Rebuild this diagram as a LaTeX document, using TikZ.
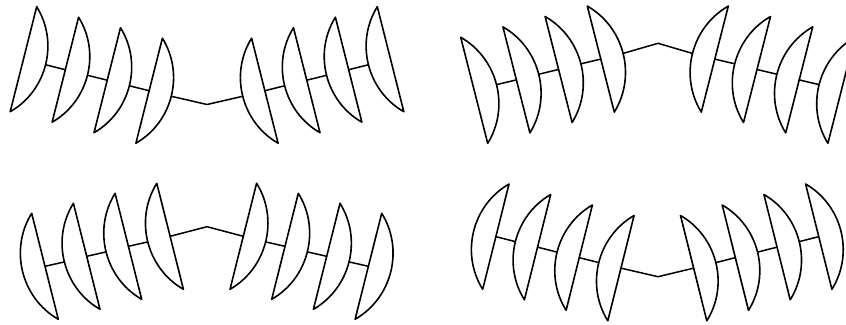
\documentclass[tikz,border=0pt]{standalone}
\tikzset{
  lensline/.style={line width=1.6pt, line join=round, line cap=round},
  conn/.style={line width=1.5pt, line join=round, line cap=round}
}
% #1 name, #2 top x, #3 top y, #4 chord dx, #5 chord dy, #6 bend side
\newcommand\lens[6]{%
  \coordinate (#1t) at (#2,#3);
  \coordinate (#1b) at ({#2+#4},{#3+#5});
  \draw[lensline] (#1b) -- node[coordinate,pos=.5](#1c){} (#1t)
     to[bend #6=46] node[coordinate,pos=.5](#1a){} (#1b);
}
\begin{document}
\begin{tikzpicture}[x=1pt,y=-1pt]
\useasboundingbox (0,0) rectangle (846,324);
\clip (0,0) rectangle (846,324);
\foreach \k in {0,1,2,3}{
  % panel 1 (top left)
  \pgfmathsetmacro\tx{36.7+41.9*\k}\pgfmathsetmacro\ty{6.7+10.5*\k}\pgfmathsetmacro\mx{414-\tx}
  \lens{PaL\k}{\tx}{\ty}{-26.5}{105}{left}
  \lens{PaR\k}{\mx}{\ty}{26.5}{105}{right}
  % panel 2 (top right)
  \pgfmathsetmacro\tx{460.7+42.2*\k}\pgfmathsetmacro\ty{37.3-10.4*\k}\pgfmathsetmacro\mx{1315.6-\tx}
  \lens{PbL\k}{\tx}{\ty}{27}{106}{left}
  \lens{PbR\k}{\mx}{\ty}{-27}{106}{right}
  % panel 3 (bottom left)
  \pgfmathsetmacro\tx{31.7+41.7*\k}\pgfmathsetmacro\ty{213.3-10*\k}\pgfmathsetmacro\mx{413.4-\tx}
  \lens{PcL\k}{\tx}{\ty}{26.6}{106}{right}
  \lens{PcR\k}{\mx}{\ty}{-26.6}{106}{left}
  % panel 4 (bottom right)
  \pgfmathsetmacro\tx{509+41.7*\k}\pgfmathsetmacro\ty{184+10.5*\k}\pgfmathsetmacro\mx{1314.6-\tx}
  \lens{PdL\k}{\tx}{\ty}{-26.3}{105.3}{right}
  \lens{PdR\k}{\mx}{\ty}{26.3}{105.3}{left}
}
\coordinate (Pam) at (207,104.5);
\coordinate (Pbm) at (658,43.3);
\coordinate (Pcm) at (207,226.7);
\coordinate (Pdm) at (658,276.7);
\foreach \i/\j in {0/1,1/2,2/3}{
  \draw[conn] (PaL\i a) -- (PaL\j c);
  \draw[conn] (PaR\i a) -- (PaR\j c);
  \draw[conn] (PbL\i a) -- (PbL\j c);
  \draw[conn] (PbR\i a) -- (PbR\j c);
  \draw[conn] (PcL\i c) -- (PcL\j a);
  \draw[conn] (PcR\i c) -- (PcR\j a);
  \draw[conn] (PdL\i c) -- (PdL\j a);
  \draw[conn] (PdR\i c) -- (PdR\j a);
}
\draw[conn] (PaL3a) -- (Pam) -- (PaR3a);
\draw[conn] (PbL3a) -- (Pbm) -- (PbR3a);
\draw[conn] (PcL3c) -- (Pcm) -- (PcR3c);
\draw[conn] (PdL3c) -- (Pdm) -- (PdR3c);
\end{tikzpicture}
\end{document}
